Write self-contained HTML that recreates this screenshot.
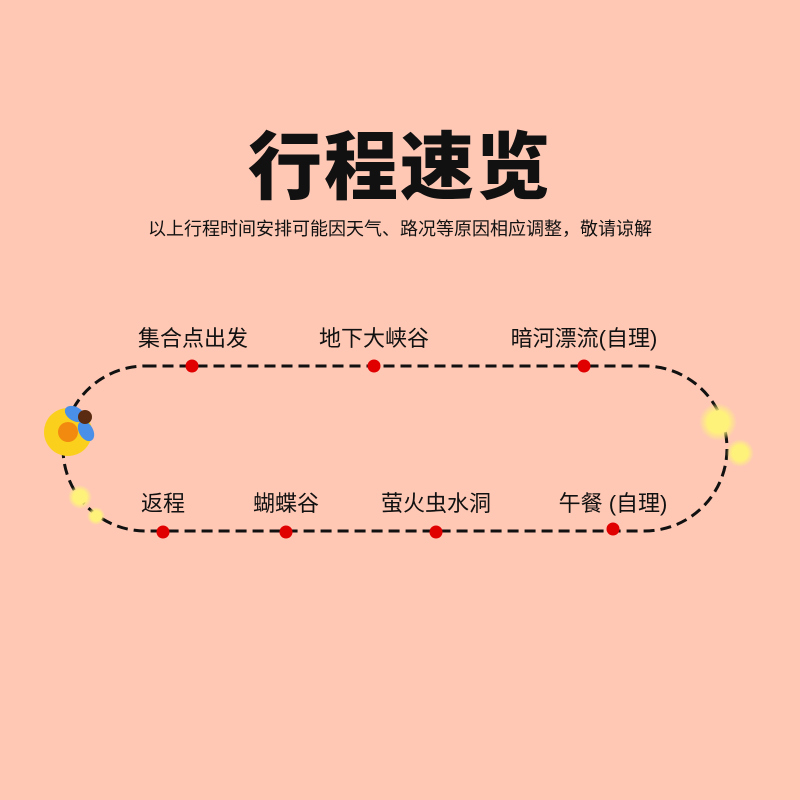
<!DOCTYPE html>
<html><head><meta charset="utf-8"><style>
body{margin:0;width:800px;height:800px;background:#fec8b5;position:relative;overflow:hidden;font-family:"Liberation Sans","Noto Sans CJK SC",sans-serif;color:#111}
.t{position:absolute;white-space:nowrap;transform:translateX(-50%)}
.l{font-size:22px;line-height:28px}
</style></head><body>
<div class="t" style="left:400px;top:123px;font-size:74px;font-weight:900;letter-spacing:2px;line-height:90px">行程速览</div>
<div class="t" style="left:400px;top:218px;font-size:18px;line-height:22px">以上行程时间安排可能因天气、路况等原因相应调整，敬请谅解</div>
<div class="t l" style="left:193px;top:325px">集合点出发</div>
<div class="t l" style="left:374px;top:325px">地下大峡谷</div>
<div class="t l" style="left:584px;top:325px">暗河漂流(自理)</div>
<div class="t l" style="left:163px;top:490px">返程</div>
<div class="t l" style="left:286px;top:490px">蝴蝶谷</div>
<div class="t l" style="left:436px;top:490px">萤火虫水洞</div>
<div class="t l" style="left:613px;top:490px">午餐 (自理)</div>
<svg width="800" height="800" style="position:absolute;left:0;top:0">
<defs><radialGradient id="g"><stop offset="0.55" stop-color="#fff27a"/><stop offset="1" stop-color="#fff27a" stop-opacity="0"/></radialGradient></defs>
<rect x="63" y="366" width="664" height="165" rx="82.5" fill="none" stroke="#111" stroke-width="3" stroke-dasharray="11 6"/>
<g fill="#e00000"><circle cx="192" cy="366" r="6.5"/><circle cx="374" cy="366" r="6.5"/><circle cx="584" cy="366" r="6.5"/><circle cx="163" cy="532" r="6.5"/><circle cx="286" cy="532" r="6.5"/><circle cx="436" cy="532" r="6.5"/><circle cx="613" cy="529" r="6.5"/></g>
<circle cx="718" cy="422" r="19" fill="url(#g)"/><circle cx="740" cy="453" r="14" fill="url(#g)"/>
<circle cx="80" cy="497" r="12" fill="url(#g)"/><circle cx="96" cy="516" r="9" fill="url(#g)"/>
<circle cx="68" cy="432" r="24" fill="#fbd01c"/>
<circle cx="68" cy="432" r="10" fill="#f28a10"/>
<ellipse cx="75" cy="414" rx="11" ry="7" fill="#4a90e8" transform="rotate(30 75 414)"/>
<ellipse cx="86" cy="431" rx="11" ry="7" fill="#4a90e8" transform="rotate(60 86 431)"/>
<circle cx="85" cy="417" r="7" fill="#5a2b10"/>
</svg>
</body></html>
